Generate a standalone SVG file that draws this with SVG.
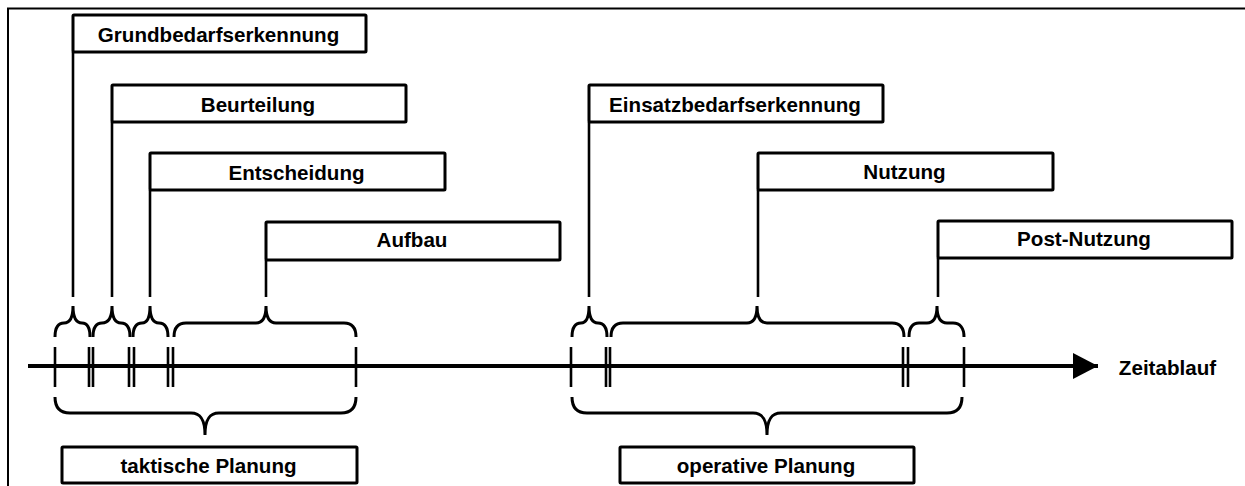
<svg xmlns="http://www.w3.org/2000/svg" width="1245" height="486" viewBox="0 0 1245 486">
<style>
.box{fill:#fff;stroke:#000;stroke-width:3;stroke-linejoin:round}
.lbl{font-family:"Liberation Sans",Arial,sans-serif;font-weight:bold;font-size:20.6px;fill:#000;text-anchor:middle}
.ln{stroke:#000;stroke-width:2.6;fill:none}
.br{stroke:#000;stroke-width:3;fill:none;stroke-linecap:butt}
.tk{stroke:#000;stroke-width:2.6}
</style>
<defs>
<marker id="arr" markerWidth="25" markerHeight="26" refX="25" refY="13" orient="auto" markerUnits="userSpaceOnUse">
<path d="M0,0 L25,13 L0,26 Z" fill="#000"/>
</marker>
</defs>
<rect x="0" y="0" width="1245" height="486" fill="#fff"/>
<path d="M8,486 V8.5 H1245" fill="none" stroke="#000" stroke-width="2"/>

<g id="connectors">
<line class="ln" x1="73" y1="52" x2="73" y2="297"/>
<line class="ln" x1="112" y1="122" x2="112" y2="297"/>
<line class="ln" x1="150" y1="190" x2="150" y2="297"/>
<line class="ln" x1="266" y1="260" x2="266" y2="297"/>
<line class="ln" x1="589" y1="122" x2="589" y2="297"/>
<line class="ln" x1="758" y1="190" x2="758" y2="297"/>
<line class="ln" x1="938" y1="258" x2="938" y2="297"/>
<!-- axis -->
<line x1="28" y1="366" x2="1098" y2="366" stroke="#000" stroke-width="4" marker-end="url(#arr)"/>
<!-- ticks -->
<g class="tk">
<line x1="55" y1="347" x2="55" y2="387"/>
<line x1="89" y1="347" x2="89" y2="387"/><line x1="93" y1="347" x2="93" y2="387"/>
<line x1="129" y1="347" x2="129" y2="387"/><line x1="134" y1="347" x2="134" y2="387"/>
<line x1="168" y1="347" x2="168" y2="387"/><line x1="173" y1="347" x2="173" y2="387"/>
<line x1="356" y1="347" x2="356" y2="387"/>
<line x1="571" y1="347" x2="571" y2="387"/>
<line x1="606" y1="347" x2="606" y2="387"/><line x1="610" y1="347" x2="610" y2="387"/>
<line x1="903" y1="347" x2="903" y2="387"/><line x1="908" y1="347" x2="908" y2="387"/>
<line x1="964" y1="347" x2="964" y2="387"/>
</g>
<!-- upper braces -->
<g class="br">
<path d="M55,337 C55,328 58,323 64,323 C69,323 73,319 73,306 C73,319 77,323 82,323 C87,323 90,328 90,337"/>
<path d="M93,337 C93,328 96,323 102,323 C108,323 112,319 112,306 C112,319 116,323 121,323 C127,323 130,328 130,337"/>
<path d="M133,337 C133,328 136,323 142,323 C147,323 150,319 150,306 C150,319 154,323 159,323 C165,323 168,328 168,337"/>
<path d="M174,337 C174,328 178,323 186,323 L256,323 C262,323 266,319 266,306 C266,319 270,323 276,323 L344,323 C352,323 356,328 356,337"/>
<path d="M572,337 C572,328 575,323 581,323 C586,323 589,319 589,306 C589,319 593,323 598,323 C604,323 607,328 607,337"/>
<path d="M611,337 C611,328 615,323 623,323 L747,323 C753,323 757,319 757,306 C757,319 761,323 767,323 L892,323 C900,323 904,328 904,337"/>
<path d="M909,337 C909,328 912,323 919,323 L927,323 C933,323 937,319 937,306 C937,319 941,323 947,323 L953,323 C960,323 964,328 964,337"/>
</g>
<!-- lower braces -->
<g class="br">
<path d="M55,397 C55,407 59,413 70,413 L191,413 C201,413 205,420 205,435 C205,420 209,413 219,413 L341,413 C352,413 356,407 356,397"/>
<path d="M572,397 C572,407 576,413 587,413 L753,413 C763,413 767,420 767,435 C767,420 771,413 781,413 L947,413 C958,413 962,407 962,397"/>
</g>
</g>

<g id="n-grund"><rect class="box" x="73" y="15" width="293" height="37" rx="1"/><text class="lbl" x="218.5" y="42">Grundbedarfserkennung</text></g>
<g id="n-beurteilung"><rect class="box" x="112" y="85" width="294" height="37" rx="1"/><text class="lbl" x="258" y="111.5">Beurteilung</text></g>
<g id="n-entscheidung"><rect class="box" x="150" y="153" width="295" height="37" rx="1"/><text class="lbl" x="296.5" y="179.5">Entscheidung</text></g>
<g id="n-aufbau"><rect class="box" x="266" y="222" width="294" height="38" rx="1"/><text class="lbl" x="412" y="247">Aufbau</text></g>
<g id="n-einsatz"><rect class="box" x="589" y="85" width="294" height="37" rx="1"/><text class="lbl" x="735" y="111.5">Einsatzbedarfserkennung</text></g>
<g id="n-nutzung"><rect class="box" x="758" y="153" width="295" height="37" rx="1"/><text class="lbl" x="904.5" y="179">Nutzung</text></g>
<g id="n-post"><rect class="box" x="938" y="221" width="294" height="37" rx="1"/><text class="lbl" x="1084" y="246">Post-Nutzung</text></g>
<g id="n-taktisch"><rect class="box" x="62" y="447" width="295" height="36" rx="1"/><text class="lbl" x="208.5" y="472.5">taktische Planung</text></g>
<g id="n-operativ"><rect class="box" x="620" y="447" width="294" height="36" rx="1"/><text class="lbl" x="766" y="472.5">operative Planung</text></g>
<g id="n-zeit"><text class="lbl" x="1167.5" y="374.5">Zeitablauf</text></g>
</svg>
